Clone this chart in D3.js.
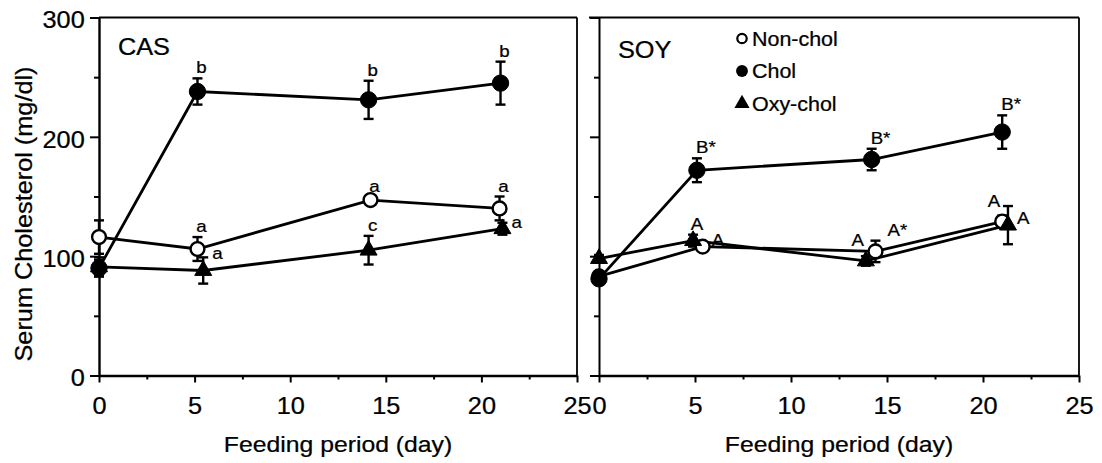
<!DOCTYPE html>
<meta charset="utf-8">
<style>
  body { margin: 0; background: #fff; }
  text { font-family: "Liberation Sans", Arial, Helvetica, sans-serif; fill: #000; stroke: #000; stroke-width: 0.25px; }
  .serie { fill: none; stroke: #000; stroke-width: 2.8px; }
  .err { stroke: #000; stroke-width: 2.4px; }
  .axis path, .axis line { stroke: #000; }
  .axis text { stroke: #000; stroke-width: 0.25px; }
  .axis path { stroke-width: 2.4px; }
  .axis line { stroke-width: 2px; }
</style>
<svg width="1102" height="463"></svg>
<script src="https://d3js.org/d3.v7.min.js"></script>
<script>

// ---- data (day, mg/dl, +/- error, letter) ----
var majorDays = [0, 5, 10, 15, 20, 25];
var minorDays = [2.5, 7.5, 12.5, 17.5, 22.5];
var majorChol = [0, 100, 200, 300];
var minorChol = [50, 150, 250];
var seriesNames = ["Non-chol", "Chol", "Oxy-chol"];

// CAS panel
var casNonX  = [0, 5.15, 14.2, 20.95];
var casNonY  = [116, 106, 147, 140];
var casNonE  = [14, 10, 3, 10];
var casNonL  = ["", "a", "a", "a"];
var casNonP  = ["", "t", "t", "t"];

var casCholX = [0, 5.15, 14.1, 21.0];
var casCholY = [90, 238, 231, 245];
var casCholE = [7, 11, 16, 18];
var casCholL = ["", "b", "b", "b"];
var casCholP = ["", "t", "t", "t"];

var casOxyX  = [0, 5.45, 14.1, 21.1];
var casOxyY  = [91, 88, 105, 123];
var casOxyE  = [8, 11, 12, 5];
var casOxyL  = ["", "a", "c", "a"];
var casOxyP  = ["", "ur", "t", "r"];

// SOY panel
var soyNonX  = [0, 5.4, 14.4, 21.0];
var soyNonY  = [83, 108, 104, 129];
var soyNonE  = [3, 3, 9, 5];
var soyNonL  = ["", "A", "A*", "A"];
var soyNonP  = ["", "r", "tr", "tl"];

var soyCholX = [0, 5.1, 14.2, 21.0];
var soyCholY = [81, 172, 181, 204];
var soyCholE = [5, 10, 9, 14];
var soyCholL = ["", "B*", "B*", "B*"];
var soyCholP = ["", "ts", "ts", "ts"];

var soyOxyX  = [0, 4.9, 13.9, 21.3];
var soyOxyY  = [98, 113, 96, 126];
var soyOxyE  = [3, 5, 4, 16];
var soyOxyL  = ["", "A", "A", "A"];
var soyOxyP  = ["", "t", "tl", "r"];

var svg = d3.select("svg");
var SX = 1.1; // scanned type is a bit wide

var y = d3.scaleLinear().domain([0, 300]).range([375.5, 17.5]);

function txt(g, x, yy, str, size, anchor, rot) {
  return g.append("text")
    .attr("transform", "translate(" + x + "," + yy + ")" + (rot ? " rotate(" + rot + ")" : "") + " scale(" + SX + ",1)")
    .attr("text-anchor", anchor || "start")
    .style("font-size", size + "px")
    .text(str);
}

function series(xs, ys, es, ls, ps) {
  return xs.map(function(d, i) { return {x: d, y: ys[i], e: es[i], lab: ls[i], pos: ps[i]}; });
}

function marker(kind, k) {
  if (kind === 2) return d3.symbol(d3.symbolTriangle, 125 * k)();
  return d3.symbol(d3.symbolCircle, (kind === 0 ? 150 : 210) * k)();
}

function panel(x, showLabels, title, titleX, titleY, data) {
  var g = svg.append("g");

  // frame top/right
  g.append("line").attr("x1", x.range()[0] - (showLabels ? 0 : 10)).attr("x2", x.range()[1])
    .attr("y1", y(300)).attr("y2", y(300)).style("stroke", "#000").style("stroke-width", 1.8);
  g.append("line").attr("x1", x.range()[1]).attr("x2", x.range()[1])
    .attr("y1", y(300)).attr("y2", y(0)).style("stroke", "#000").style("stroke-width", 1.8);

  // axes
  var gx = g.append("g").attr("class", "axis").attr("transform", "translate(0," + y(0) + ")")
    .call(d3.axisBottom(x).tickValues(majorDays).tickSize(7).tickSizeOuter(0).tickPadding(15));
  gx.selectAll("text").style("font-size", "23px").attr("transform", "scale(" + SX + ",1)");
  g.append("g").attr("class", "axis").attr("transform", "translate(0," + y(0) + ")")
    .call(d3.axisBottom(x).tickValues(minorDays).tickSize(4).tickFormat(""))
    .select(".domain").remove();

  var gy = g.append("g").attr("class", "axis").attr("transform", "translate(" + x.range()[0] + ",0)")
    .call(d3.axisLeft(y).tickValues(majorChol).tickSize(9).tickSizeOuter(0).tickPadding(4)
      .tickFormat(showLabels ? d3.format("d") : ""));
  gy.selectAll("text").style("font-size", "23px").attr("dy", "0.45em").attr("transform", "scale(" + SX + ",1)");
  if (!showLabels) gy.select(".domain").style("stroke-width", 2);
  g.append("g").attr("class", "axis").attr("transform", "translate(" + x.range()[0] + ",0)")
    .call(d3.axisLeft(y).tickValues(minorChol).tickSize(5).tickFormat(""))
    .select(".domain").remove();

  txt(g, titleX, titleY, title, 23, "start");
  txt(g, (x.range()[0] + x.range()[1]) / 2, 452, "Feeding period (day)", 22.5, "middle");

  var line = d3.line().x(function(d) { return x(d.x); }).y(function(d) { return y(d.y); });

  data.forEach(function(s) {
    g.append("path").datum(s.pts).attr("class", "serie").attr("d", line);
  });

  data.forEach(function(s) {
    var eb = g.append("g").selectAll("g").data(s.pts.filter(function(d) { return d.e > 0; }))
      .enter().append("g");
    eb.append("line").attr("class", "err")
      .attr("x1", function(d) { return x(d.x); }).attr("x2", function(d) { return x(d.x); })
      .attr("y1", function(d) { return y(d.y - d.e); }).attr("y2", function(d) { return y(d.y + d.e); });
    [-1, 1].forEach(function(sg) {
      eb.append("line").attr("class", "err")
        .attr("x1", function(d) { return x(d.x) - 5; }).attr("x2", function(d) { return x(d.x) + 5; })
        .attr("y1", function(d) { return y(d.y + sg * d.e); }).attr("y2", function(d) { return y(d.y + sg * d.e); });
    });
  });

  data.forEach(function(s) {
    g.append("g").selectAll("path").data(s.pts).enter().append("path")
      .attr("transform", function(d) { return "translate(" + x(d.x) + "," + y(d.y) + ")"; })
      .attr("d", marker(s.kind, 1))
      .style("fill", s.kind === 0 ? "#fff" : "#000")
      .style("stroke", "#000").style("stroke-width", s.kind === 0 ? 2.4 : 1);
  });

  // significance letters
  data.forEach(function(s) {
    s.pts.forEach(function(d) {
      if (!d.lab) return;
      var px = x(d.x), py = y(d.y), top = y(d.y + d.e);
      var lx, ly, an;
      if (d.pos === "t") { lx = px + 4; ly = top - 5; an = "middle"; }
      else if (d.pos === "ts") { lx = px - 1; ly = top - 5; an = "start"; }
      else if (d.pos === "tr") { lx = px + 12; ly = top - 5; an = "start"; }
      else if (d.pos === "tl") { lx = px - 2; ly = py - 15; an = "end"; }
      else if (d.pos === "ur") { lx = px + 9; ly = py - 11; an = "start"; }
      else { lx = px + 9; ly = py - 1; an = "start"; }
      txt(g, lx, ly, d.lab, 17, an);
    });
  });
  return g;
}

var xCas = d3.scaleLinear().domain([0, 25]).range([99, 577]);
var xSoy = d3.scaleLinear().domain([0, 25]).range([599, 1079]);

panel(xCas, true, "CAS", 118, 55, [
  {kind: 0, pts: series(casNonX, casNonY, casNonE, casNonL, casNonP)},
  {kind: 2, pts: series(casOxyX, casOxyY, casOxyE, casOxyL, casOxyP)},
  {kind: 1, pts: series(casCholX, casCholY, casCholE, casCholL, casCholP)}
]);

panel(xSoy, false, "SOY", 618, 58, [
  {kind: 0, pts: series(soyNonX, soyNonY, soyNonE, soyNonL, soyNonP)},
  {kind: 1, pts: series(soyCholX, soyCholY, soyCholE, soyCholL, soyCholP)},
  {kind: 2, pts: series(soyOxyX, soyOxyY, soyOxyE, soyOxyL, soyOxyP)}
]);

// y title
txt(svg, 32, 214, "Serum Cholesterol (mg/dl)", 23, "middle", -90);

// legend
var leg = svg.append("g").selectAll("g").data(seriesNames).enter().append("g")
  .attr("transform", function(d, i) { return "translate(742," + (38.5 + i * 32.5) + ")"; });
leg.append("path")
  .attr("d", function(d, i) { return i === 2 ? d3.symbol(d3.symbolTriangle, 100)() : d3.symbol(d3.symbolCircle, i === 0 ? 70 : 110)(); })
  .style("fill", function(d, i) { return i === 0 ? "#fff" : "#000"; })
  .style("stroke", "#000").style("stroke-width", function(d, i) { return i === 0 ? 2.2 : 0; });
leg.each(function(d) { txt(d3.select(this), 10, 7, d, 19.5, "start"); });

</script>
